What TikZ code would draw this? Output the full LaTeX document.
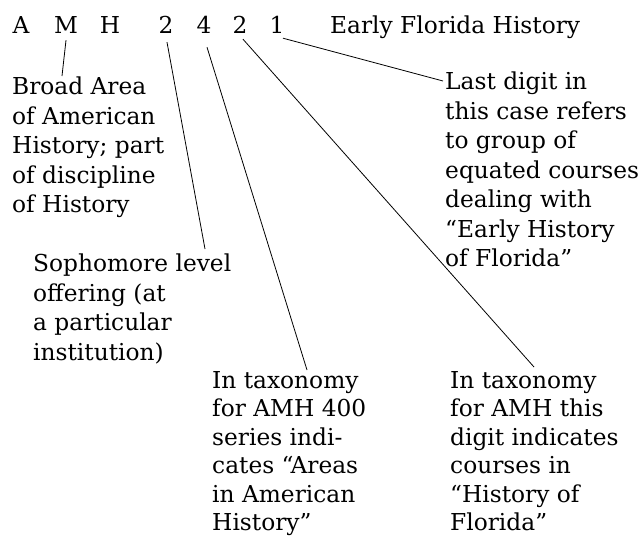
\documentclass[tikz,border=0pt]{standalone}
\usepackage{fontspec}
\setmainfont{DejaVu Serif}
\usepackage{tikz}
\usetikzlibrary{positioning}

\begin{document}
\begin{tikzpicture}[
        x=1pt, y=-1pt,
        code/.style={inner sep=0pt, anchor=base, font=\fontsize{23.3}{28.5}\selectfont},
        note/.style={inner sep=0pt, anchor=north west, align=left, font=\fontsize{23.3}{29.5}\selectfont},
        lownote/.style={note, font=\fontsize{23.3}{28.5}\selectfont},
        pointer/.style={line width=0.8pt, black}
    ]
    \useasboundingbox (0,0) rectangle (644,538);

    % course number
    \node[code] (lA) at (21,33) {A};
    \node[code] (lM) at (66,33) {M};
    \node[code] (lH) at (110,33) {H};
    \node[code] (dTwo) at (166,33) {2};
    \node[code] (dFour) at (204,33) {4};
    \node[code] (dTwoB) at (240,33) {2};
    \node[code] (dOne) at (277,33) {1};
    \node[code, anchor=base west] (title) at (330,33) {Early Florida History};

    % explanations (first baseline about 20pt below the top)
    \node[note] (broad) at (12,74) {\strut Broad Area\\of American\\History; part\\of discipline\\of History};
    \node[note] (sopho) at (33,251) {\strut Sophomore level\\offering (at\\a particular\\institution)};
    \node[lownote] (series) at (212,368) {\strut In taxonomy\\for AMH 400\\series indi-\\cates “Areas\\in American\\History”};
    \node[lownote] (florida) at (450,368) {\strut In taxonomy\\for AMH this\\digit indicates\\courses in\\“History of\\Florida”};
    \node[note] (last) at (445,69) {\strut Last digit in\\this case refers\\to group of\\equated courses\\dealing with\\“Early History\\of Florida”};

    % pointers
    \draw[pointer] ([yshift=-7pt]lM.south) -- ([xshift=50pt,yshift=-2pt]broad.north west);
    \draw[pointer] ([xshift=1pt,yshift=-9pt]dTwo.south) -- ([xshift=172pt,yshift=2pt]sopho.north west);
    \draw[pointer] ([xshift=3pt,yshift=-14pt]dFour.south) -- ([xshift=95pt,yshift=-2pt]series.north west);
    \draw[pointer] ([xshift=3pt,yshift=-6pt]dTwoB.south) -- ([xshift=84pt,yshift=1pt]florida.north west);
    \draw[pointer] ([xshift=6pt,yshift=-5pt]dOne.south) -- ([xshift=-2pt,yshift=-12pt]last.north west);
\end{tikzpicture}
\end{document}
